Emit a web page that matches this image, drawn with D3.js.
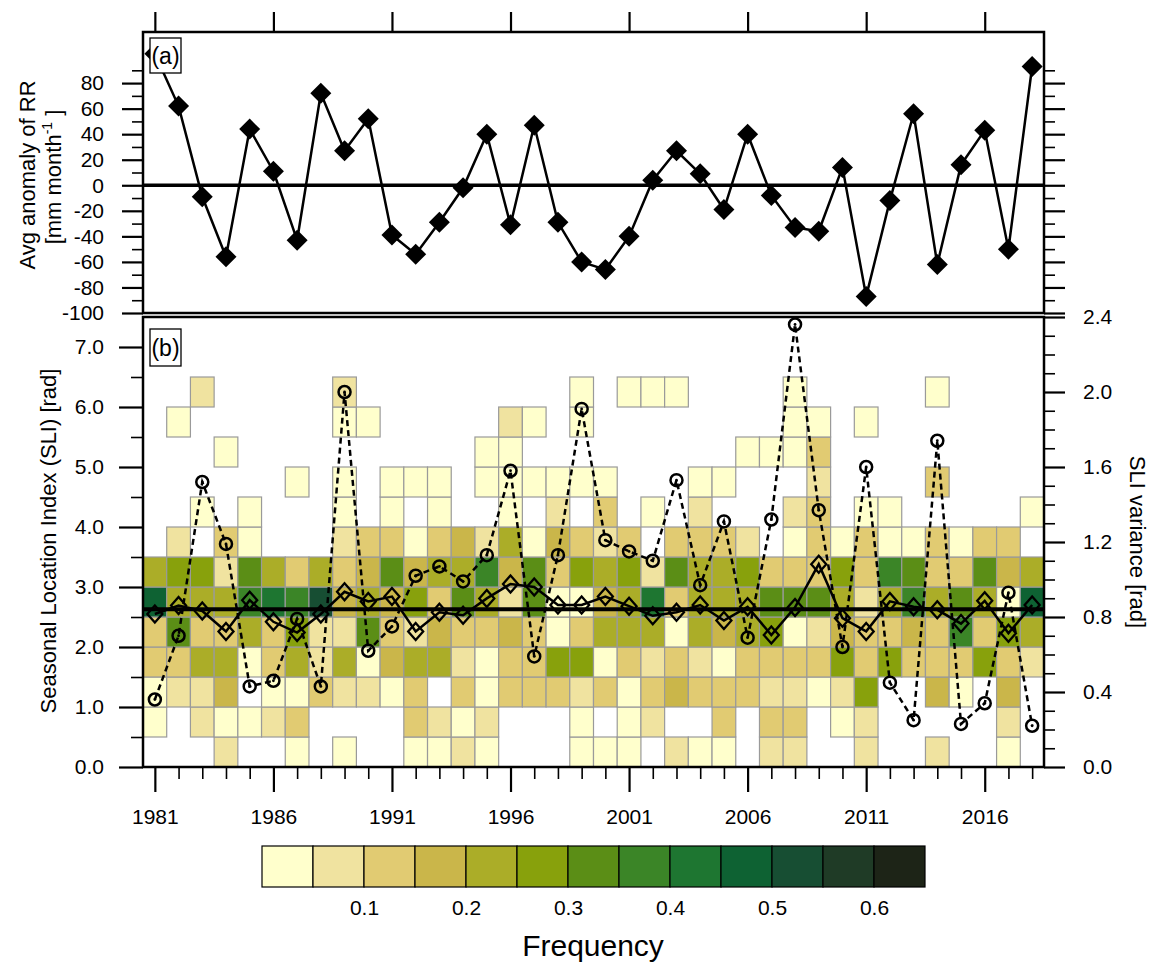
<!DOCTYPE html>
<html><head><meta charset="utf-8">
<script src="https://cdn.jsdelivr.net/npm/d3@7"></script>
<style>
html,body{margin:0;padding:0;background:#fff;}
svg text{font-family:"Liberation Sans",Arial,Helvetica,sans-serif;fill:#000;}
</style></head><body>
<svg id="chart" width="1152" height="963"></svg>
<script>
// ---------------- data ----------------
const years = [1981,1982,1983,1984,1985,1986,1987,1988,1989,1990,1991,1992,1993,1994,1995,1996,1997,1998,1999,2000,
               2001,2002,2003,2004,2005,2006,2007,2008,2009,2010,2011,2012,2013,2014,2015,2016,2017,2018];
// (a) average anomaly of RR [mm month-1]
const rrAnomaly = [103,62,-9,-56,44,11,-43,72,27,52,-39,-54,-29,-2,40,-31,47,-29,-60,-66,
                   -40,4,27,9,-19,40,-8,-33,-36,14,-87,-12,56,-62,16,43,-50,93];
// (b) SLI (open diamonds, left axis) and SLI variance (open circles, right axis)
const sliIndex = [2.55,2.69,2.60,2.26,2.78,2.42,2.24,2.55,2.92,2.76,2.84,2.26,2.58,2.53,2.81,3.05,3.00,2.70,2.70,2.84,
                  2.68,2.52,2.58,2.70,2.44,2.67,2.20,2.66,3.38,2.48,2.26,2.76,2.67,2.62,2.39,2.77,2.23,2.70];
const sliVariance = [0.36,0.70,1.52,1.19,0.43,0.46,0.79,0.43,2.00,0.62,0.75,1.02,1.07,0.99,1.13,1.58,0.59,1.13,1.91,1.21,
                     1.15,1.10,1.53,0.97,1.31,0.69,1.32,2.36,1.37,0.64,1.60,0.45,0.25,1.74,0.23,0.34,0.93,0.22];
const sliMean = 2.63;
// SLI bins (lower edges, rad) and frequency per year (null = no occurrence)
const binLower = [0.0,0.5,1.0,1.5,2.0,2.5,3.0,3.5,4.0,4.5,5.0,5.5,6.0];
const binWidth = 0.5;
const _ = null;
const sliFrequency = [
 [_,.03,.03,.13,.13,.48,.23,_,_,_,_,_,_],          // 1981
 [_,_,.08,.13,.33,.23,.28,.08,_,_,_,.03,_],        // 1982
 [_,.08,.08,.23,.13,.23,.28,_,.03,_,_,_,.08],      // 1983
 [.08,.03,.18,.23,.13,.23,.08,.13,_,_,.03,_,_],    // 1984
 [_,.03,_,.03,.23,.38,.33,.03,.03,_,_,_,_],        // 1985
 [_,.08,.03,.13,.13,.43,.23,_,_,_,_,_,_],          // 1986
 [.03,.13,.03,.23,.28,.38,.13,_,_,.03,_,_,_],      // 1987
 [_,_,.13,.08,.08,.53,.23,_,_,_,_,_,_],            // 1988
 [.03,_,.08,.23,.08,.18,.13,.08,.03,.03,_,.03,.08],// 1989
 [_,_,.08,.03,.33,.23,.18,.13,_,_,_,.03,_],        // 1990
 [_,_,.03,.18,.13,.18,.33,.13,.03,.03,_,_,_],      // 1991
 [.03,.13,.13,.23,.08,.28,.18,.03,_,.03,_,_,_],    // 1992
 [.03,.08,_,.23,.18,.13,.23,.13,.03,.03,_,_,_],    // 1993
 [.08,.03,.13,.08,.13,.33,.23,.18,_,_,_,_,_],      // 1994
 [.03,.08,.03,.03,.13,.23,.38,.08,_,.03,.03,_,_],  // 1995
 [_,_,.13,.13,.18,.08,.18,.23,.03,.03,.03,.08,_],  // 1996
 [_,_,.13,.13,.13,.33,.33,.03,_,.03,_,.03,_],      // 1997
 [_,_,.13,.28,.03,.03,.13,.18,.08,.03,_,_,_],      // 1998
 [.03,.03,.08,.28,.13,.03,.28,.13,_,.03,_,.03,.03],// 1999
 [.03,_,.13,.03,.23,.18,.23,.08,.13,.03,_,_,_],    // 2000
 [.03,.03,.03,.13,.23,.23,.28,.13,_,_,_,_,.03],    // 2001
 [_,.08,.13,.08,.23,.43,.08,_,.03,_,_,_,.03],      // 2002
 [.08,_,.18,.13,.03,.13,.33,.13,_,_,_,_,.03],      // 2003
 [.03,_,.13,.08,.23,.23,.23,.13,.08,.03,_,_,_],    // 2004
 [.03,.13,.13,.03,.18,.23,.23,.13,_,.03,_,_,_],    // 2005
 [_,_,.13,.13,.23,.23,.28,.08,_,_,.03,_,_],        // 2006
 [.08,.13,.08,.13,.28,.33,.13,_,_,_,.03,_,_],      // 2007
 [.08,.13,.08,.13,.03,.33,.13,.03,.08,_,.03,.03,.03],// 2008
 [_,_,.03,.13,.08,.33,.13,.13,.13,.08,.13,.03,_],  // 2009
 [_,.03,.08,.28,.18,.23,.28,.03,_,_,_,_,_],        // 2010
 [.08,.08,.28,.13,.13,.08,.13,.13,.03,_,_,.03,_],  // 2011
 [_,_,_,.28,.13,.23,.38,.03,.03,_,_,_,_],          // 2012
 [_,_,_,.13,.18,.38,.33,.03,_,_,_,_,_],            // 2013
 [.08,_,.18,.13,.13,.23,.13,.13,_,.13,_,_,.03],    // 2014
 [_,_,.03,.13,.38,.33,.13,.03,_,_,_,_,_],          // 2015
 [_,_,_,.28,.13,.23,.33,.13,_,_,_,_,_],            // 2016
 [.03,.08,.18,.13,.28,.03,.18,.13,_,_,_,_,_],      // 2017
 [_,_,_,.08,.23,.48,.23,_,.03,_,_,_,_]             // 2018
];
const freqLevels = [0.05,0.10,0.15,0.20,0.25,0.30,0.35,0.40,0.45,0.50,0.55,0.60];
const freqColors = ["#FFFFCC","#F0E3A0","#E1CB72","#CAB64A","#ABAD28","#88A10C","#5B8E16",
                    "#3B8527","#1E7631","#0E6233","#174E33","#1F3B26","#1D2417"];
const freqLabels = [0.1,0.2,0.3,0.4,0.5,0.6];
// tick values
const aMajor = [-100,-80,-60,-40,-20,0,20,40,60,80];
const aMinor = [-90,-70,-50,-30,-10,10,30,50,70,90];
const bMajor = [0,1,2,3,4,5,6,7];
const bMinor = [0.5,1.5,2.5,3.5,4.5,5.5,6.5];
const vMajor = [0,0.4,0.8,1.2,1.6,2.0,2.4];
const vMinor = [0.1,0.2,0.3,0.5,0.6,0.7,0.9,1.0,1.1,1.3,1.4,1.5,1.7,1.8,1.9,2.1,2.2,2.3];
const yearMajor = [1981,1986,1991,1996,2001,2006,2011,2016];

// ---------------- layout ----------------
const svg = d3.select('#chart');
const L = 143, R = 1044, aT = 32, aB = 313, bT = 317, bB = 767;
const FONT = '"Liberation Sans",Arial,Helvetica,sans-serif';
const x  = d3.scaleLinear().domain([1980.5, 2018.5]).range([L, R]);
const ya = d3.scaleLinear().domain([-100, 120]).range([aB, aT]);
const yb = d3.scaleLinear().domain([0, 7.5]).range([bB, bT]);
const yv = d3.scaleLinear().domain([0, 2.4]).range([bB, bT]);
const color = d3.scaleThreshold().domain(freqLevels).range(freqColors);

function styleAxis(g, w, fs) {
  g.select('.domain').remove();
  g.attr('font-family', FONT).attr('font-size', fs || 21);
  g.selectAll('.tick line').attr('stroke', '#000').attr('stroke-width', w);
  g.selectAll('.tick text').attr('fill', '#000');
}
const fmtInt = d => String(d);
const fmt1 = d3.format('.1f');

// ---------------- panel (b): heatmap ----------------
const gb = svg.append('g');
const cells = [];
sliFrequency.forEach((col, i) => col.forEach((v, j) => {
  if (v !== null) cells.push({year: years[i], lo: binLower[j], v});
}));
gb.selectAll('rect.cell').data(cells).join('rect')
  .attr('class', 'cell')
  .attr('x', d => x(d.year - 0.5))
  .attr('width', d => x(d.year + 0.5) - x(d.year - 0.5))
  .attr('y', d => yb(d.lo + binWidth))
  .attr('height', d => yb(d.lo) - yb(d.lo + binWidth))
  .attr('fill', d => color(d.v))
  .attr('stroke', '#9a9a9a').attr('stroke-width', 1.2);

// mean line
gb.append('line').attr('x1', L).attr('x2', R)
  .attr('y1', yb(sliMean)).attr('y2', yb(sliMean))
  .attr('stroke', '#000').attr('stroke-width', 4);

// variance dashed line + circles
const lineV = d3.line().x((d, i) => x(years[i])).y(d => yv(d));
gb.append('path').datum(sliVariance).attr('d', lineV)
  .attr('fill', 'none').attr('stroke', '#000').attr('stroke-width', 2.5)
  .attr('stroke-dasharray', '6,4');
gb.selectAll('circle.vc').data(sliVariance).join('circle').attr('class', 'vc')
  .attr('cx', (d, i) => x(years[i])).attr('cy', d => yv(d)).attr('r', 6)
  .attr('fill', 'none').attr('stroke', '#000').attr('stroke-width', 2.5);
gb.selectAll('circle.vd').data(sliVariance).join('circle').attr('class', 'vd')
  .attr('cx', (d, i) => x(years[i])).attr('cy', d => yv(d)).attr('r', 1.4)
  .attr('fill', '#000');

// SLI solid line + open diamonds
const lineS = d3.line().x((d, i) => x(years[i])).y(d => yb(d));
gb.append('path').datum(sliIndex).attr('d', lineS)
  .attr('fill', 'none').attr('stroke', '#000').attr('stroke-width', 2.5);
gb.selectAll('path.dm').data(sliIndex).join('path').attr('class', 'dm')
  .attr('transform', (d, i) => `translate(${x(years[i])},${yb(d)})`)
  .attr('d', 'M0,-8.5L7.5,0L0,8.5L-7.5,0Z')
  .attr('fill', 'none').attr('stroke', '#000').attr('stroke-width', 2.3);

// frame b
svg.append('rect').attr('x', L).attr('y', bT).attr('width', R - L).attr('height', bB - bT)
  .attr('fill', 'none').attr('stroke', '#000').attr('stroke-width', 2.5);

// ---------------- panel (a) ----------------
const ga = svg.append('g');
ga.append('line').attr('x1', L).attr('x2', R).attr('y1', ya(0)).attr('y2', ya(0))
  .attr('stroke', '#000').attr('stroke-width', 3.5);
const lineA = d3.line().x((d, i) => x(years[i])).y(d => ya(d));
ga.append('path').datum(rrAnomaly).attr('d', lineA)
  .attr('fill', 'none').attr('stroke', '#000').attr('stroke-width', 2.5);
ga.selectAll('path.da').data(rrAnomaly).join('path').attr('class', 'da')
  .attr('transform', (d, i) => `translate(${x(years[i])},${ya(d)})`)
  .attr('d', 'M0,-10.5L10.5,0L0,10.5L-10.5,0Z').attr('fill', '#000');
svg.append('rect').attr('x', L).attr('y', aT).attr('width', R - L).attr('height', aB - aT)
  .attr('fill', 'none').attr('stroke', '#000').attr('stroke-width', 2.5);

// panel labels
function panelLabel(txt, y0, h) {
  svg.append('rect').attr('x', 150).attr('y', y0).attr('width', 31).attr('height', h)
    .attr('fill', '#fff').attr('stroke', '#000').attr('stroke-width', 1.3);
  svg.append('text').attr('x', 165.5).attr('y', y0 + h / 2).attr('dy', '0.35em')
    .attr('text-anchor', 'middle').attr('font-size', 23).text(txt);
}
panelLabel('(a)', 38, 35);
panelLabel('(b)', 329, 37);

// ---------------- axes ----------------
// panel a
styleAxis(svg.append('g').attr('transform', `translate(${L},0)`)
  .call(d3.axisLeft(ya).tickValues(aMajor).tickSize(21).tickPadding(18).tickFormat(fmtInt)), 2.2);
styleAxis(svg.append('g').attr('transform', `translate(${L},0)`)
  .call(d3.axisLeft(ya).tickValues(aMinor).tickSize(11).tickFormat('')), 1.6);
styleAxis(svg.append('g').attr('transform', `translate(${R},0)`)
  .call(d3.axisRight(ya).tickValues(aMajor).tickSize(21).tickFormat('')), 2.2);
styleAxis(svg.append('g').attr('transform', `translate(${R},0)`)
  .call(d3.axisRight(ya).tickValues(aMinor).tickSize(11).tickFormat('')), 1.6);
styleAxis(svg.append('g').attr('transform', `translate(0,${aT})`)
  .call(d3.axisTop(x).tickValues(yearMajor).tickSize(20).tickFormat('')), 2.2);

// panel b
styleAxis(svg.append('g').attr('transform', `translate(${L},0)`)
  .call(d3.axisLeft(yb).tickValues(bMajor).tickSize(24).tickPadding(15).tickFormat(fmt1)), 2.2);
styleAxis(svg.append('g').attr('transform', `translate(${L},0)`)
  .call(d3.axisLeft(yb).tickValues(bMinor).tickSize(12).tickFormat('')), 1.6);
styleAxis(svg.append('g').attr('transform', `translate(${R},0)`)
  .call(d3.axisRight(yv).tickValues(vMajor).tickSize(21).tickPadding(18).tickFormat(fmt1)), 2.2);
styleAxis(svg.append('g').attr('transform', `translate(${R},0)`)
  .call(d3.axisRight(yv).tickValues(vMinor).tickSize(11).tickFormat('')), 1.6);
styleAxis(svg.append('g').attr('transform', `translate(0,${bB})`)
  .call(d3.axisBottom(x).tickValues(yearMajor).tickSize(25).tickPadding(17).tickFormat(fmtInt)), 2.2);
styleAxis(svg.append('g').attr('transform', `translate(0,${bB})`)
  .call(d3.axisBottom(x).tickValues(years.filter(y => !yearMajor.includes(y))).tickSize(12).tickFormat('')), 1.6);

// axis titles
svg.append('text').attr('transform', 'translate(27,175) rotate(-90)')
  .attr('text-anchor', 'middle').attr('dy', '0.35em').attr('font-size', 22).text('Avg anomaly of RR');
const tA2 = svg.append('text').attr('transform', 'translate(53,177) rotate(-90)')
  .attr('text-anchor', 'middle').attr('dy', '0.35em').attr('font-size', 22);
tA2.append('tspan').text('[mm month');
tA2.append('tspan').attr('font-size', 14).attr('dy', -9).text('-1');
tA2.append('tspan').attr('dy', 9).text(' ]');
svg.append('text').attr('transform', 'translate(48,541) rotate(-90)')
  .attr('text-anchor', 'middle').attr('dy', '0.35em').attr('font-size', 22)
  .text('Seasonal Location Index (SLI) [rad]');
svg.append('text').attr('transform', 'translate(1138,542) rotate(90)')
  .attr('text-anchor', 'middle').attr('dy', '0.35em').attr('font-size', 22)
  .text('SLI variance [rad]');

// ---------------- colorbar ----------------
const cbX = d3.scaleLinear().domain([0, 0.05 * freqColors.length]).range([262, 925]);
const cbT = 846, cbB = 887;
svg.append('g').selectAll('rect').data(freqColors).join('rect')
  .attr('x', (d, i) => cbX(i * 0.05)).attr('width', (d, i) => cbX((i + 1) * 0.05) - cbX(i * 0.05))
  .attr('y', cbT).attr('height', cbB - cbT)
  .attr('fill', d => d).attr('stroke', '#000').attr('stroke-width', 1.2);
const cbAxis = svg.append('g').attr('transform', `translate(0,${cbB})`)
  .call(d3.axisBottom(cbX).tickValues(freqLabels).tickSize(0).tickPadding(13).tickFormat(d3.format('.1f')));
styleAxis(cbAxis, 0, 21);
svg.append('text').attr('x', 593).attr('y', 945).attr('dy', '0.35em')
  .attr('text-anchor', 'middle').attr('font-size', 30).text('Frequency');
</script>
</body></html>
